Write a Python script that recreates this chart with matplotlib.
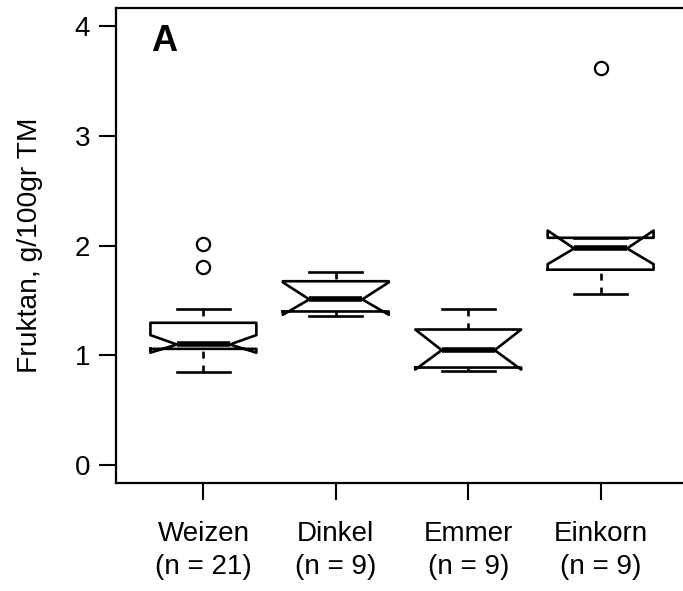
"""Notched boxplot of fructan content per grain type (R style)."""
import matplotlib
matplotlib.use("Agg")
import matplotlib.pyplot as plt

plt.rcParams["font.family"] = ["Liberation Sans", "DejaVu Sans"]
plt.rcParams["lines.scale_dashes"] = False

names = ["Weizen", "Dinkel", "Emmer", "Einkorn"]
counts = [21, 9, 9, 9]
q1 = [1.06, 1.40, 0.89, 1.78]
med = [1.10, 1.51, 1.048, 1.973]
q3 = [1.297, 1.675, 1.236, 2.07]
whislo = [0.848, 1.357, 0.858, 1.56]
whishi = [1.425, 1.76, 1.418, 2.07]
cilo = [1.025, 1.37, 0.872, 1.83]
cihi = [1.185, 1.665, 1.236, 2.136]
fliers = [[2.01, 1.80], [], [], [3.61]]
yticks = [0, 1, 2, 3, 4]

stats = []
for i, name in enumerate(names):
    stats.append(dict(label=f"{name}\n(n = {counts[i]})", med=med[i], q1=q1[i], q3=q3[i],
                      whislo=whislo[i], whishi=whishi[i], cilo=cilo[i], cihi=cihi[i],
                      fliers=fliers[i]))

fig = plt.figure(figsize=(6.83, 5.91), dpi=100)
ax = fig.add_axes([116 / 683, 108 / 591, 572 / 683, 475 / 591])

lw = 1.9
parts = ax.bxp(stats, positions=range(1, 5), widths=0.8, shownotches=True,
               boxprops=dict(color="black", linewidth=lw),
               whiskerprops=dict(color="black", linewidth=lw, linestyle=(0, (5, 5))),
               capprops=dict(color="black", linewidth=lw),
               medianprops=dict(color="black", linewidth=4.0, solid_capstyle="butt"),
               flierprops=dict(marker="o", markersize=9.5, markerfacecolor="white",
                               markeredgecolor="black", markeredgewidth=1.6))
# R draws whiskers from the whisker end towards the hinge
for w in parts["whiskers"]:
    w.set_ydata(w.get_ydata()[::-1])

ax.set_xlim(0.34, 4.66)
ax.set_ylim(-0.16, 4.16)
ax.set_yticks(yticks)
ax.tick_params(axis="both", labelsize=20, length=12, width=1.5)
ax.tick_params(axis="y", pad=6.5)
ax.tick_params(axis="x", pad=15.6)
for lab in ax.get_xticklabels():
    lab.set_linespacing(1.35)
for s in ax.spines.values():
    s.set_linewidth(1.6)

ax.set_ylabel("Fruktan, g/100gr TM", fontsize=20.3, labelpad=23)
ax.text(0.0848, 0.910, "A", transform=ax.transAxes, fontsize=26, fontweight="bold",
        ha="center", va="baseline")

fig.savefig("out.png", dpi=100)
